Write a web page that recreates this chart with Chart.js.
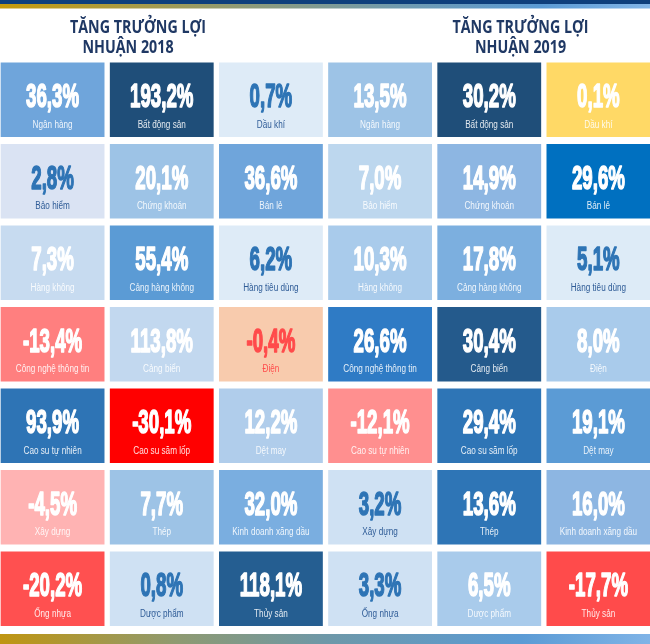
<!DOCTYPE html>
<html><head><meta charset="utf-8">
<script src="https://cdn.jsdelivr.net/npm/chart.js@4.4.1/dist/chart.umd.min.js"></script>
<style>
html,body{margin:0;padding:0;background:#fff;overflow:hidden;width:650px;height:644px;position:relative}
#wrap{position:absolute;left:-2px;top:0;width:655px;height:644px}
</style></head><body><div id="wrap"><canvas id="c" width="655" height="644"></canvas></div>
<script>
// ---- data ----
const sectors = ['Ngân hàng','Bất động sản','Dầu khí','Bảo hiểm','Chứng khoán','Bán lẻ','Hàng không','Cảng hàng không','Hàng tiêu dùng','Công nghệ thông tin','Cảng biển','Điện','Cao su tự nhiên','Cao su săm lốp','Dệt may','Xây dựng','Thép','Kinh doanh xăng dầu','Ống nhựa','Dược phẩm','Thủy sản'];
const growth2018 = [36.3,193.2,0.7,2.8,20.1,36.6,7.3,55.4,6.2,-13.4,113.8,-0.4,93.9,-30.1,12.2,-4.5,7.7,32.0,-20.2,0.8,118.1];
const growth2019 = [13.5,30.2,0.1,7.0,14.9,29.6,10.3,17.8,5.1,26.6,30.4,8.0,-12.1,29.4,19.1,3.2,13.6,16.0,3.3,6.5,-17.7];
const years = ['2018','2019'];
const columns = ['2018 a','2018 b','2018 c','2019 a','2019 b','2019 c'];
const titleLine1 = 'TĂNG TRƯỞNG LỢI';
const titleLine2 = 'NHUẬN ';

// ---- styles (kept apart from data) ----
const fill2018 = ['#6FA5DB','#1F4E79','#DEEBF7','#DAE3F3','#9DC3E6','#6FA5DB','#C7DBF0','#5B9BD5','#DEEBF7','#FF7F7F','#C2D8EF','#F8CBAD','#2E74B5','#FF0000','#B0CDEB','#FFB3B3','#9DC3E6','#7AAEE0','#FF5050','#CFE1F3','#255E91'];
const fill2019 = ['#9DC3E6','#1F4E79','#FFD966','#BDD7EE','#8DB6E2','#0070C0','#A9CBEB','#7CAFDF','#DDEBF7','#2F7BC5','#245A8C','#A9CBEB','#FF8F8F','#2E75B6','#5B9BD5','#CFE1F3','#2E75B6','#8DB6E2','#CFE1F3','#A9CBEB','#FF4B4B'];
const ink2018 = ['w','w','b','b','w','w','w','w','b','w','w','r','w','w','w','w','w','w','w','b','w'];
const ink2019 = ['w','w','w','w','w','w','w','w','b','w','w','w','w','w','w','b','w','w','b','w','w'];
const INK = {w:['#FFFFFF','rgba(255,255,255,0.88)'], b:['#2E74B5','#2F5C97'], r:['#FF4B4B','#FF4B4B']};

const series = [growth2018, growth2019];
const fills = [fill2018, fill2019];
const inks = [ink2018, ink2019];

const cells = [];
series.forEach((vals, p) => {
  vals.forEach((v, i) => {
    cells.push({col: p*3 + (i%3), row: Math.floor(i/3), value: v, name: sectors[i], fill: fills[p][i], ink: inks[p][i]});
  });
});

const fmt = v => v.toFixed(1).replace('.', ',') + '%';

const deco = {
  id: 'deco',
  beforeDraw(chart) {
    const ctx = chart.ctx, W = chart.width;
    ctx.save();
    ctx.fillStyle = '#fff'; ctx.fillRect(0,0,W,chart.height);
    ctx.fillStyle = '#0E3F7C'; ctx.fillRect(0,0,W,4);
    const g1 = ctx.createLinearGradient(0,0,W,0);
    g1.addColorStop(0,'#C69A0A'); g1.addColorStop(0.38,'#8E9A78'); g1.addColorStop(0.62,'#6F9AB0');
    g1.addColorStop(0.83,'#5B9BD5'); g1.addColorStop(1,'#84B6E8');
    ctx.fillStyle = g1; ctx.fillRect(0,4,W,4.5);
    const g2 = ctx.createLinearGradient(0,0,W,0);
    g2.addColorStop(0,'#C09510'); g2.addColorStop(0.27,'#8F9A70'); g2.addColorStop(0.5,'#6E98A8');
    g2.addColorStop(0.8,'#5B9BD5'); g2.addColorStop(1,'#80B4E7');
    ctx.fillStyle = g2; ctx.fillRect(0,634,W,10);
    // titles
    ctx.fillStyle = '#1F3864';
    ctx.font = 'bold 17px "Open Sans", sans-serif';
    ctx.textAlign = 'center'; ctx.textBaseline = 'alphabetic';
    const sx = 136 / ctx.measureText(titleLine1).width;
    const spots = [[140, 130], [522.5, 522.5]];
    years.forEach((y, p) => {
      [[titleLine1, spots[p][0], 32.5], [titleLine2 + y, spots[p][1], 52.5]].forEach(([t, x, b]) => {
        ctx.save(); ctx.translate(x, b); ctx.scale(sx, 1); ctx.fillText(t, 0, 0); ctx.restore();
      });
    });
    ctx.restore();
  },
  afterDatasetsDraw(chart) {
    const ctx = chart.ctx;
    const meta = chart.getDatasetMeta(0);
    ctx.save();
    ctx.textAlign = 'center'; ctx.textBaseline = 'alphabetic';
    ctx.font = 'bold 34px "Liberation Sans", Arial, sans-serif';
    const sxN = 53 / ctx.measureText('36,3%').width;
    ctx.font = '10px "Liberation Sans", Arial, sans-serif';
    const sxL = 40 / ctx.measureText('Ngân hàng').width;
    meta.data.forEach((el, i) => {
      const c = cells[i];
      const {x, y, base} = el.getProps(['x','y','base'], true);
      const cy = (y + base) / 2;
      const [numCol, labCol] = INK[c.ink];
      ctx.save();
      ctx.translate(x, cy + 7.5); ctx.scale(sxN, 1);
      ctx.font = 'bold 34px "Liberation Sans", Arial, sans-serif';
      ctx.fillStyle = numCol; ctx.strokeStyle = numCol; ctx.lineWidth = 1.6; ctx.lineJoin = 'round';
      ctx.fillText(fmt(c.value), 0, 0); ctx.strokeText(fmt(c.value), 0, 0);
      ctx.restore();
      ctx.save();
      ctx.translate(x, cy + 28); ctx.scale(sxL, 1);
      ctx.font = '10px "Liberation Sans", Arial, sans-serif';
      ctx.fillStyle = labCol;
      ctx.fillText(c.name, 0, 0);
      ctx.restore();
    });
    ctx.restore();
  }
};

new Chart(document.getElementById('c'), {
  type: 'bar',
  data: {
    labels: columns,
    datasets: [{
      data: cells.map(c => ({x: columns[c.col], y: [c.row, c.row + 1]})),
      backgroundColor: ctx => cells[ctx.dataIndex] ? cells[ctx.dataIndex].fill : '#ccc',
      borderColor: '#ffffff',
      borderWidth: {top: 3.75, bottom: 3.75, left: 3, right: 3},
      borderSkipped: false,
      categoryPercentage: 1,
      barPercentage: 1
    }]
  },
  options: {
    responsive: false,
    devicePixelRatio: 1,
    animation: false,
    layout: {padding: {top: 59, bottom: 14.5, left: 0, right: 0}},
    plugins: {legend: {display: false}, tooltip: {enabled: false}, title: {display: false}},
    scales: {
      x: {type: 'category', display: false, offset: true, grid: {display: false}},
      y: {type: 'linear', min: 0, max: 7, reverse: true, display: false, grid: {display: false}}
    }
  },
  plugins: [deco]
});
</script></body></html>
